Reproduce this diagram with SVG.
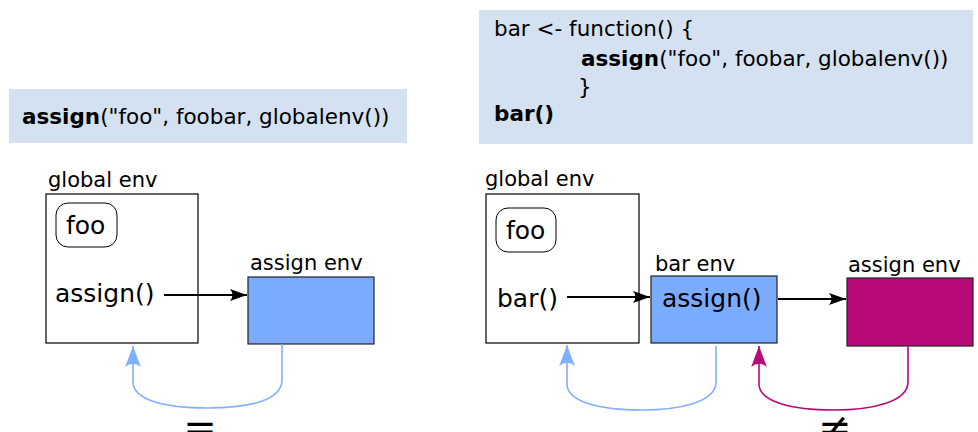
<svg xmlns="http://www.w3.org/2000/svg" width="978" height="432" viewBox="0 0 978 432">
<defs>
<style>
text{font-family:"DejaVu Sans","Liberation Sans",sans-serif;fill:#000}
.code{font-size:21.5px}
.b{font-weight:bold}
.lbl{font-size:21px}
.big{font-size:25px}
.panel{fill:#d3e1f1}
.env{fill:#fff;stroke:#000;stroke-width:1.2}
.blue{fill:#7aabff;stroke:#222;stroke-width:1.2}
.mag{fill:#b80a78;stroke:#222;stroke-width:1.2}
.pill{fill:#fff;stroke:#000;stroke-width:1}
.ar{fill:none;stroke:#000;stroke-width:2}
.cb{fill:none;stroke:#80b0ff;stroke-width:1.6}
.cm{fill:none;stroke:#b80a78;stroke-width:1.6}
</style>
<marker id="ak" markerWidth="20" markerHeight="14" viewBox="-17 -7 18 14" refX="0" refY="0" orient="auto" markerUnits="userSpaceOnUse">
<path d="M0,0 L-17,-6 Q-12,0 -17,6 Z" fill="#000"/>
</marker>
<marker id="abl" markerWidth="22" markerHeight="18" viewBox="-20 -8 21 16" refX="0" refY="0" orient="auto" markerUnits="userSpaceOnUse">
<path d="M0,0 L-20,-7.5 Q-14,0 -20,7.5 Z" fill="#80b0ff"/>
</marker>
<marker id="amg" markerWidth="22" markerHeight="18" viewBox="-20 -8 21 16" refX="0" refY="0" orient="auto" markerUnits="userSpaceOnUse">
<path d="M0,0 L-20,-7.5 Q-14,0 -20,7.5 Z" fill="#b80a78"/>
</marker>
</defs>

<g id="code-left">
<rect class="panel" x="9" y="89" width="398" height="54"/>
<text class="code" x="22" y="124"><tspan class="b">assign</tspan>("foo", foobar, globalenv())</text>
</g>

<g id="code-right">
<rect class="panel" x="479" y="10" width="494" height="134"/>
<text class="code" x="494" y="36">bar &lt;- function() {</text>
<text class="code" x="581" y="66"><tspan class="b">assign</tspan>("foo", foobar, globalenv())</text>
<text class="code" x="578" y="94">}</text>
<text class="code b" x="494" y="121">bar()</text>
</g>

<g id="left-global-env">
<text class="lbl" x="48" y="187">global env</text>
<rect class="env" x="46" y="194" width="152" height="149"/>
<rect class="pill" x="56" y="203" width="61" height="44" rx="12"/>
<text class="big" x="66" y="234">foo</text>
<text class="big" x="55" y="302">assign()</text>
</g>

<g id="left-assign-env">
<text class="lbl" x="250" y="270">assign env</text>
<rect class="blue" x="248" y="277" width="126" height="67"/>
</g>

<g id="right-global-env">
<text class="lbl" x="485" y="186">global env</text>
<rect class="env" x="486" y="194" width="153" height="149"/>
<rect class="pill" x="496" y="208" width="60" height="44" rx="12"/>
<text class="big" x="506" y="239">foo</text>
<text class="big" x="497" y="307">bar()</text>
</g>

<g id="right-bar-env">
<text class="lbl" x="655" y="271">bar env</text>
<rect class="blue" x="651" y="276" width="126" height="67"/>
<text class="big" x="662" y="307">assign()</text>
</g>

<g id="right-assign-env">
<text class="lbl" x="848" y="272">assign env</text>
<rect class="mag" x="847" y="278" width="126" height="68"/>
</g>

<g id="connectors">
<path class="ar" d="M164,295 L247,295" marker-end="url(#ak)"/>
<path class="ar" d="M567,297 L650,297" marker-end="url(#ak)"/>
<path class="ar" d="M778,299 L846,299" marker-end="url(#ak)"/>
<path class="cb" d="M282,344 L282,380 C282,400 250,408 208,408 C165,408 133,400 133,382 L133,346" marker-end="url(#abl)"/>
<path class="cb" d="M716,346 L716,382 C716,402 680,410 642,410 C600,410 567,402 567,384 L567,345" marker-end="url(#abl)"/>
<path class="cm" d="M908,346 L908,382 C908,402 872,410 834,410 C792,410 759,402 759,384 L759,346" marker-end="url(#amg)"/>
<text x="200" y="441" style="font-size:40px" text-anchor="middle">=</text>
<text x="835" y="441" style="font-size:40px" text-anchor="middle">≠</text>
</g>
</svg>
